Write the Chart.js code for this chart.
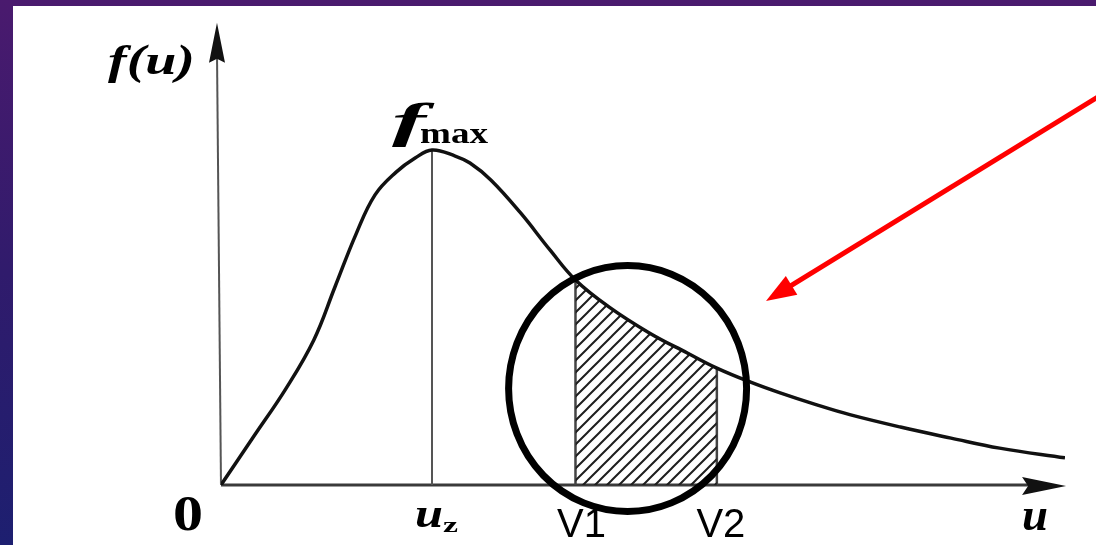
<!DOCTYPE html>
<html lang="en">
<head>
<meta charset="UTF-8">
<title>Speed distribution f(u)</title>
<script src="https://cdn.jsdelivr.net/npm/chart.js"></script>
<style>
  body {
    margin: 0;
    width: 1096px;
    height: 545px;
    overflow: hidden;
    position: relative;
    background: linear-gradient(to bottom, #4a1a6e 0%, #301b6c 50%, #1d1f70 100%);
  }
  .panel { position: absolute; left: 13px; top: 6px; right: 0; bottom: 0; background: #fff; }
  #chart { position: absolute; left: 0; top: 0; }
</style>
</head>
<body>
<div class="panel"></div>
<canvas id="chart" width="1096" height="545"></canvas>
<script>
// speed u (in units of the most probable speed) and density f(u) (in units of f_max)
const speeds  = [0, 0.15, 0.31, 0.44, 0.54, 0.64, 0.73, 0.83, 0.92, 1.0,
                 1.11, 1.18, 1.28, 1.42, 1.56, 1.68, 1.84, 2.03, 2.21, 2.35, 2.51,
                 2.65, 2.82, 2.98, 3.22, 3.46, 3.69, 4.0];
const density = [0, 0.140, 0.290, 0.433, 0.591, 0.749, 0.866, 0.934, 0.976, 1.0,
                 0.982, 0.961, 0.910, 0.812, 0.701, 0.612, 0.531, 0.454, 0.394, 0.349, 0.307,
                 0.275, 0.240, 0.210, 0.173, 0.140, 0.110, 0.081];

const uPeak = 1.0;
const v1 = 1.68;
const v2 = 2.35;

const curve = speeds.map((u, i) => ({ x: u, y: density[i] }));
const band = curve.filter(p => p.x >= v1 && p.x <= v2);
const fAt = u => curve.find(p => p.x === u).y;

// diagonal hatching for the V1..V2 band
function hatchPattern() {
  const s = 12;
  const c = document.createElement('canvas');
  c.width = s; c.height = s;
  const g = c.getContext('2d');
  g.strokeStyle = '#1e1e1e';
  g.lineWidth = 2;
  g.beginPath();
  g.moveTo(-1, s + 1); g.lineTo(s + 1, -1);
  g.moveTo(-1, 1); g.lineTo(1, -1);
  g.moveTo(s - 1, s + 1); g.lineTo(s + 1, s - 1);
  g.stroke();
  return g.createPattern(c, 'repeat');
}

const ctx = document.getElementById('chart').getContext('2d');

function stretchText(c, text, x, y, font, width) {
  c.save();
  c.font = font;
  const w = c.measureText(text).width;
  c.translate(x, y);
  c.scale(width / w, 1);
  c.fillText(text, 0, 0);
  c.restore();
}

function line(c, x1, y1, x2, y2, color, width) {
  c.beginPath();
  c.moveTo(x1, y1);
  c.lineTo(x2, y2);
  c.strokeStyle = color;
  c.lineWidth = width;
  c.stroke();
}

const sketch = {
  id: 'sketch',
  beforeDatasetsDraw(chart) {
    const c = chart.ctx, X = chart.scales.x, Y = chart.scales.y;
    const x0 = X.getPixelForValue(0), y0 = Y.getPixelForValue(0);
    c.save();
    // y axis with arrow
    const yTop = Y.getPixelForValue(1.38), yTopX = X.getPixelForValue(-0.019);
    line(c, x0, y0, yTopX, yTop + 30, '#555', 2);
    c.beginPath();
    c.moveTo(yTopX, yTop);
    c.lineTo(yTopX - 8, yTop + 40);
    c.lineTo(yTopX, yTop + 36);
    c.lineTo(yTopX + 8, yTop + 40);
    c.closePath();
    c.fillStyle = '#111';
    c.fill();
    // x axis with arrow
    const xTip = X.getPixelForValue(4.005);
    line(c, x0, y0, xTip - 30, y0, '#3a3a3a', 3);
    c.beginPath();
    c.moveTo(xTip, y0 + 1);
    c.lineTo(xTip - 44, y0 - 8);
    c.lineTo(xTip - 38, y0 + 1);
    c.lineTo(xTip - 44, y0 + 10);
    c.closePath();
    c.fillStyle = '#111';
    c.fill();
    // guide lines at the peak and band edges
    const xp = X.getPixelForValue(uPeak);
    line(c, xp, y0, xp, Y.getPixelForValue(fAt(uPeak)), '#555', 2);
    [v1, v2].forEach(v => {
      const xv = X.getPixelForValue(v);
      line(c, xv, y0, xv, Y.getPixelForValue(fAt(v)), '#444', 2.5);
    });
    c.restore();
  },
  afterDatasetsDraw(chart) {
    const c = chart.ctx, X = chart.scales.x, Y = chart.scales.y;
    const x0 = X.getPixelForValue(0);
    c.save();
    // circle around the band
    c.beginPath();
    c.ellipse(X.getPixelForValue(1.927), Y.getPixelForValue(0.288), 119, 123, 0, 0, Math.PI * 2);
    c.strokeStyle = '#000';
    c.lineWidth = 7;
    c.stroke();
    // red pointer
    const ax = X.getPixelForValue(2.583), ay = Y.getPixelForValue(0.549);
    const bx = X.getPixelForValue(4.194), by = Y.getPixelForValue(1.173);
    const ang = Math.atan2(by - ay, bx - ax);
    const hx = ax + Math.cos(ang) * 26, hy = ay + Math.sin(ang) * 26;
    line(c, hx, hy, bx, by, '#ff0000', 5);
    c.beginPath();
    c.moveTo(ax, ay);
    c.lineTo(ax + Math.cos(ang) * 30 - Math.sin(ang) * 11, ay + Math.sin(ang) * 30 + Math.cos(ang) * 11);
    c.lineTo(ax + Math.cos(ang) * 30 + Math.sin(ang) * 11, ay + Math.sin(ang) * 30 - Math.cos(ang) * 11);
    c.closePath();
    c.fillStyle = '#ff0000';
    c.fill();

    // labels
    c.fillStyle = '#000';
    c.textBaseline = 'alphabetic';
    c.textAlign = 'left';
    const serifBI = s => `bold italic ${s}px "Liberation Serif", "DejaVu Serif", serif`;
    const serifB = s => `bold ${s}px "Liberation Serif", "DejaVu Serif", serif`;
    stretchText(c, 'f(u)', x0 - 113, 74, serifBI(43), 87);
    const xp = X.getPixelForValue(uPeak);
    stretchText(c, 'f', xp - 40, 137, serifBI(48), 34);
    stretchText(c, 'max', xp - 12, 143, serifB(30), 68);
    stretchText(c, '0', x0 - 48, 530, serifB(50), 30);
    stretchText(c, 'u', xp - 17, 527, serifBI(42), 28);
    stretchText(c, 'z', xp + 11, 532, serifB(22), 15);
    stretchText(c, 'u', X.getPixelForValue(4.0) - 43, 530, serifBI(46), 26);
    c.font = '40px "Liberation Sans", Arial, sans-serif';
    c.textAlign = 'center';
    c.fillText('V1', X.getPixelForValue(v1) + 6, 537);
    c.fillText('V2', X.getPixelForValue(v2) + 4, 537);
    c.restore();
  }
};

new Chart(ctx, {
  type: 'line',
  data: {
    datasets: [
      {
        label: 'f(u)',
        data: curve,
        borderColor: '#111',
        borderWidth: 3.5,
        pointRadius: 0,
        tension: 0.4,
        fill: false
      },
      {
        label: 'V1-V2',
        data: band,
        borderWidth: 0,
        borderColor: 'rgba(0,0,0,0)',
        backgroundColor: hatchPattern(),
        pointRadius: 0,
        tension: 0.4,
        fill: 'origin'
      }
    ]
  },
  options: {
    responsive: false,
    animation: false,
    layout: { padding: { left: 221, right: 31, top: 16, bottom: 60 } },
    scales: {
      x: { type: 'linear', min: 0, max: 4, display: false },
      y: { min: 0, max: 1.4, display: false }
    },
    plugins: {
      legend: { display: false },
      tooltip: { enabled: false }
    }
  },
  plugins: [sketch]
});
</script>
</body>
</html>
